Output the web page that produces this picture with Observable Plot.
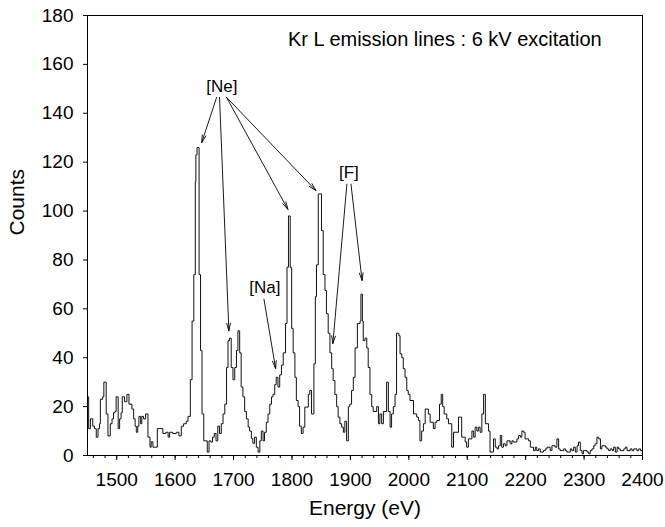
<!DOCTYPE html>
<html>
<head>
<meta charset="utf-8">
<script src="https://cdn.jsdelivr.net/npm/d3@7"></script>
<script src="https://cdn.jsdelivr.net/npm/@observablehq/plot@0.6"></script>
<style>
  html, body { margin: 0; padding: 0; background: #fff; }
</style>
</head>
<body>
<div id="chart"></div>
<script>
// Spectrum step positions (eV) and counts
const energy = [
  1445,1449,1452,1455,1459,1462,1465,1468,1470.5,1472,1476,1478,1482,1485,1489,1492,1494.5,1497,1499,
  1502.5,1505,1507.5,1509.5,1513.5,1517.5,1521,1526,1529,1531.5,1533.5,1536,1538,1541,1543,1546,1549.5,
  1553.5,1557,1559,1562,1569.5,1579,1584,1588,1590.5,1596,1602,1606.5,1610.5,1614.5,1619,1622,1626,1629,
  1632,1634.5,1635.5,1637.5,1641,1643.5,1646,1649,1653,1655,1658,1661,1664,1667,1670,1673,1676,1679,1682,
  1685,1688,1690.5,1693,1696,1699,1702,1705,1707.5,1710.5,1713,1716,1719,1722,1725,1727.5,1730.5,1733,
  1736,1739,1742,1745,1747.5,1750.5,1753,1756,1759,1762,1765,1767.5,1770.5,1773,1776,1779,1782,1785,1789,
  1791.5,1794,1797,1799.5,1802,1805,1807.5,1810.5,1813,1816,1819,1822,1828,1830.5,1833.5,1837.5,1840,1842,
  1845,1850.5,1853.5,1856.5,1859,1862,1865,1868,1870.5,1873.5,1876.5,1879,1882,1885,1888,1890.5,1893.5,
  1896.5,1899,1902,1905,1908,1912,1916.5,1918,1920.5,1922,1925,1928,1930.5,1933.5,1936.5,1939,1945,1948,
  1950.5,1953.5,1956.5,1962,1965,1968,1970.5,1973.5,1976.5,1979,1983,1985,1988,1990.5,1993.5,1996.5,1999,
  2002,2008,2013.5,2016.5,2019,2022,2025,2028,2033.5,2036.5,2042,2045,2048,2052.5,2055.5,2058,2060.5,2065,
  2068,2073.5,2076.5,2085,2090.5,2096.5,2099,2102,2108,2111,2113.5,2116.5,2119,2122,2125,2128,2131,2136.5,
  2139,2145,2148,2151,2153.5,2156.5,2159,2162,2165,2168,2173.5,2176.5,2179,2185,2188,2191,2193.5,2196.5,
  2199,2205,2208,2213.5,2216.5,2219,2222,2225,2230.5,2233.5,2236.5,2242,2245,2250.5,2253.5,2256.5,2259,
  2265,2268,2270.5,2276.5,2279,2282,2285,2288,2290.5,2293.5,2296.5,2299,2305,2308,2310.5,2313.5,2316.5,
  2319,2322,2325,2328,2330.5,2336.5,2339,2342,2345,2348,2350.5,2353.5,2356.5,2359,2362,2368,2370.5,2373.5,
  2379,2382,2385,2390.5,2393.5,2396.5,2400
];
const counts = [
  33,24,11,15,12,11,7.5,11,13,23,24,30,17,8,13,15,17.5,18,24,
  11,15,17.5,24,22,25,21,19,15,12,9.5,12,16,13,16,15,17,
  7.5,3.4,5.6,3.4,11,9,9.5,7.5,9.5,9,9.5,8,12,13,14,16,31,55,
  74,112,123,126,74,43,17,6,6,1.4,6,5.5,7.5,9,6,12,9,13,17,
  21,36,47,48,36,31,36,43,51,42,28,24,18,15,11.6,10,7,5,
  7.5,3.4,1.4,6,10,6,9.5,13.6,17,21,24,25,29,32,28,33,37,42,54,
  77,98,77,52,42,32,22.5,20,12,9,11.6,19.8,25,26.6,17,37.5,65,78,
  107,92,74,67.5,58,50,42,35.5,30.7,25,20,15.7,13,11.6,9.5,14,6,
  20,21,26.6,32,44,54,55,66,55,47,48,44,36,25,20,18,20,13,
  17,13,18,30,18,11.6,17,20,25,50,49,41.6,40,35.5,32,26.6,25,
  22.5,17,15.7,14.3,6,10,13,19,17,13.6,11,13.6,14.3,21,25,20,17,15,
  13,3.4,9.5,15.7,7.5,5.5,3.4,6.8,10,7.5,11.6,10,11.6,9.5,17,25,13,10,
  1.4,6.8,3.4,2.7,4,8.2,3.4,4.8,4,6,4.8,6,5.5,6.8,8.2,7.5,10,9.5,
  6.8,6,3.4,2,3.4,2,2.7,1.4,2,2.7,3.4,2,4,3.4,6.8,2.7,2,
  2.7,2,1.4,2.7,2,3.4,1.4,4,5.5,2,0.7,2,1.4,0.7,2,2.7,4,
  4.8,7.5,6.8,2.7,4,3.4,2.7,2,2.7,2,3.4,1.4,3.4,2.7,2,2.7,3.4,2,
  2.7,2,2.7,2,2.7,2,2
];

// Axis ticks
const xMajorTicks = [1500,1600,1700,1800,1900,2000,2100,2200,2300,2400];
const xMinorTicks = d3.range(1460, 2400, 20);
const yTicks = [0,20,40,60,80,100,120,140,160,180];

// Annotations: labels and where their arrows start/end (eV, counts)
const labelText = ["[Ne]", "[Na]", "[F]"];
const labelX = [1680, 1753.5, 1897.5];
const labelY = [151, 68.7, 115.8];
const arrowX1 = [1671, 1676, 1688, 1688, 1752, 1894, 1901];
const arrowY1 = [146.5, 146.5, 146.5, 146.5, 64, 111, 111];
const arrowX2 = [1645.5, 1692, 1793, 1841, 1772, 1870, 1920];
const arrowY2 = [128, 51, 100.7, 108.4, 35.6, 45.8, 71.6];
const titleText = ["Kr L emission lines : 6 kV excitation"];

const spectrum = energy.map((e, i) => ({e, c: counts[i]}));
const labels = labelText.map((t, i) => ({t, x: labelX[i], y: labelY[i]}));
const arrows = arrowX1.map((x1, i) => ({x1, y1: arrowY1[i], x2: arrowX2[i], y2: arrowY2[i]}));

const chart = Plot.plot({
  width: 665,
  height: 527,
  marginLeft: 87,
  marginRight: 23,
  marginTop: 15,
  marginBottom: 72,
  style: {fontFamily: "'Liberation Sans', Arial, sans-serif", fontSize: "19px", color: "#000", background: "#fff"},
  x: {domain: [1450, 2400]},
  y: {domain: [0, 180]},
  marks: [
    Plot.axisX({ticks: xMinorTicks, tickSize: 3, tickFormat: () => "", label: null}),
    Plot.axisX({ticks: xMajorTicks, tickSize: 5, tickPadding: 12, tickFormat: d => String(d), label: null, fontSize: 19}),
    Plot.axisY({ticks: yTicks, tickSize: 4, tickPadding: 10, label: null, fontSize: 19}),
    Plot.line(spectrum, {x: "e", y: "c", curve: "step-after", stroke: "#111", strokeWidth: 1, clip: true}),
    Plot.frame({stroke: "#000"}),
    Plot.arrow(arrows, {x1: "x1", y1: "y1", x2: "x2", y2: "y2", stroke: "#000", strokeWidth: 0.9, headLength: 13, headAngle: 28}),
    Plot.text(labels, {x: "x", y: "y", text: "t", fontSize: 17}),
    Plot.text(titleText, {x: 1793, y: 170, text: d => d, textAnchor: "start", fontSize: 20}),
    Plot.text(["Energy (eV)"], {frameAnchor: "bottom", dy: 59, fontSize: 21}),
    Plot.text(["Counts"], {frameAnchor: "left", dx: -70, rotate: -90, fontSize: 21})
  ]
});
document.getElementById("chart").appendChild(chart);
</script>
</body>
</html>
